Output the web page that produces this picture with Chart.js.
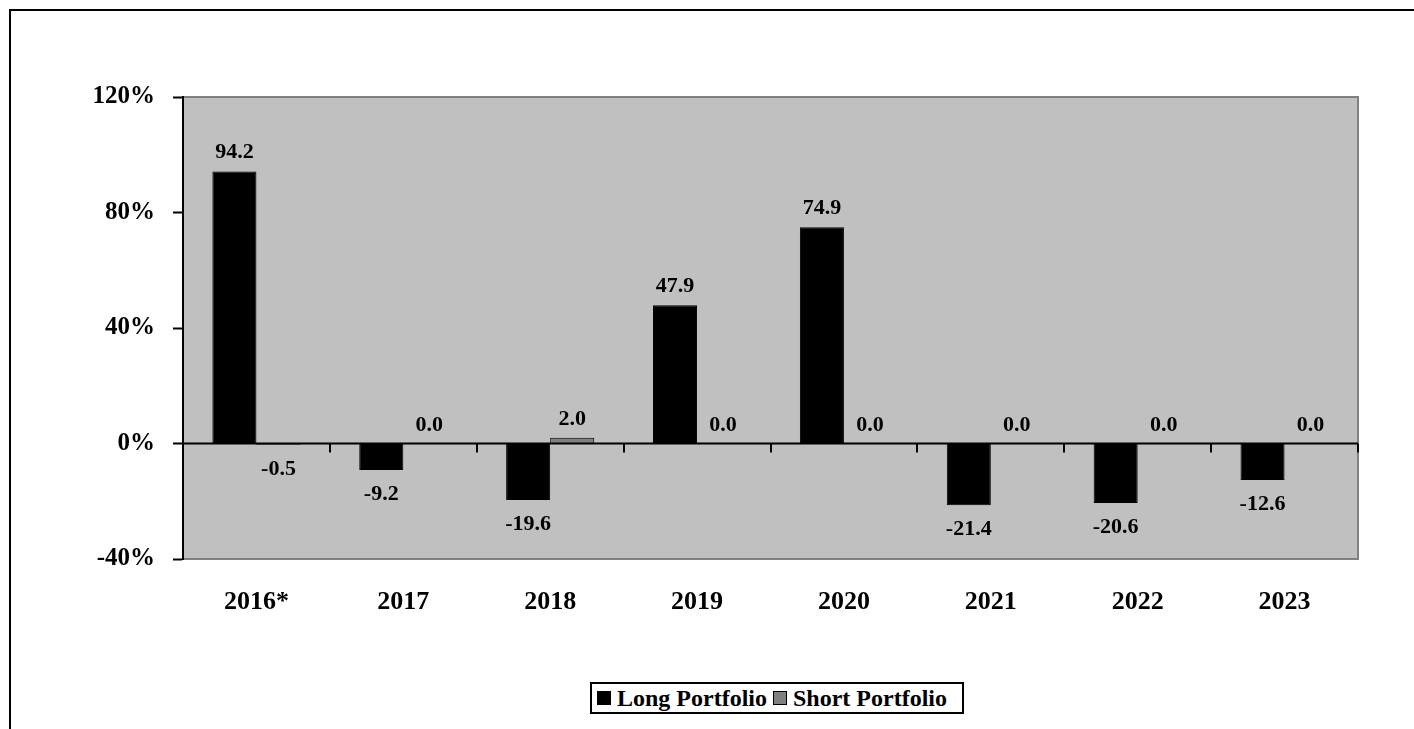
<!DOCTYPE html>
<html><head><meta charset="utf-8">
<script src="https://cdn.jsdelivr.net/npm/chart.js@4"></script>
<style>
html,body{margin:0;padding:0;background:#fff;}
#frame{position:absolute;left:9px;top:9px;width:1420px;height:740px;border-top:2px solid #000;border-left:2px solid #000;box-sizing:border-box;}
#wrap{position:absolute;left:0;top:0;width:1414px;height:729px;}
#legend{position:absolute;left:590px;top:682px;width:374px;height:32px;box-sizing:border-box;border:2px solid #000;background:#fff;
 font-family:"Liberation Serif","Times New Roman",serif;font-weight:bold;font-size:24px;display:flex;align-items:center;padding-left:5px;white-space:nowrap;}
.mk{display:inline-block;width:14px;height:14px;box-sizing:border-box;border:1px solid #000;margin-right:6px;}
</style></head>
<body>
<div id="frame"></div>
<div id="wrap"><canvas id="c" width="1414" height="729"></canvas></div>
<div id="legend"><span class="mk" style="background:#000"></span><span>Long Portfolio</span><span style="display:inline-block;width:6px"></span><span class="mk" style="background:#808080"></span><span>Short Portfolio</span></div>
<script>
const categories = ["2016*","2017","2018","2019","2020","2021","2022","2023"];
const longPortfolio = [94.2,-9.2,-19.6,47.9,74.9,-21.4,-20.6,-12.6];
const shortPortfolio = [-0.5,0.0,2.0,0.0,0.0,0.0,0.0,0.0];
const seriesNames = ["Long Portfolio","Short Portfolio"];
const yTicks = [-40,0,40,80,120];

const FONT = '"Liberation Serif","Times New Roman",serif';

const bgPlugin = {
  id:'bg',
  beforeDraw(chart){
    const {ctx, chartArea:a} = chart;
    ctx.save();
    ctx.fillStyle = '#C0C0C0';
    ctx.fillRect(a.left, a.top, a.right-a.left, a.bottom-a.top);
    ctx.strokeStyle = '#808080';
    ctx.lineWidth = 2;
    ctx.beginPath();
    ctx.moveTo(a.left, a.top); ctx.lineTo(a.right, a.top); ctx.lineTo(a.right, a.bottom); ctx.lineTo(a.left, a.bottom);
    ctx.stroke();
    ctx.restore();
  },
  afterDatasetsDraw(chart){
    const {ctx} = chart;
    const xs = chart.scales.x, ys = chart.scales.y;
    const y0 = ys.getPixelForValue(0);
    ctx.save();
    ctx.strokeStyle = '#000'; ctx.lineWidth = 2;
    ctx.beginPath(); ctx.moveTo(chart.chartArea.left, y0); ctx.lineTo(chart.chartArea.right, y0); ctx.stroke();
    const n = categories.length;
    const step = (xs.getPixelForValue(1) - xs.getPixelForValue(0));
    for (let i=1;i<=n;i++){
      const x = Math.round(xs.getPixelForValue(i-1) + step/2);
      ctx.beginPath(); ctx.moveTo(x, y0); ctx.lineTo(x, y0+9); ctx.stroke();
    }
    ctx.fillStyle = '#000';
    ctx.font = 'bold 22px ' + FONT;
    ctx.textAlign = 'center';
    ctx.textBaseline = 'alphabetic';
    chart.data.datasets.forEach((ds, di)=>{
      const meta = chart.getDatasetMeta(di);
      meta.data.forEach((el, i)=>{
        const v = ds.data[i];
        const txt = v.toFixed(1);
        let y;
        if (v >= 0) y = el.y - 13;
        else y = el.y + 30;
        ctx.fillText(txt, el.x + (v===0 ? 4 : 0), y);
      });
    });
    ctx.restore();
  }
};

new Chart(document.getElementById('c'), {
  type:'bar',
  data:{
    labels: categories,
    datasets:[
      {label:seriesNames[0], data:longPortfolio, backgroundColor:'#000000', borderColor:'#000', borderWidth:1, barPercentage:1.0, categoryPercentage:0.6},
      {label:seriesNames[1], data:shortPortfolio, backgroundColor:'#808080', borderColor:'#000', borderWidth:1, barPercentage:1.0, categoryPercentage:0.6}
    ]
  },
  options:{
    responsive:false,
    animation:false,
    layout:{padding:{left:0,right:56,top:97,bottom:0}},
    plugins:{legend:{display:false}, tooltip:{enabled:false}},
    scales:{
      x:{
        grid:{display:false, drawTicks:false},
        border:{display:false},
        ticks:{color:'#000', font:{family:FONT, size:26, weight:'bold'}, padding:28, maxRotation:0},
        afterFit(s){ s.height = 170; }
      },
      y:{
        min:-40, max:120,
        afterBuildTicks(s){ s.ticks = yTicks.map(v=>({value:v})); },
        grid:{drawOnChartArea:false, drawTicks:true, tickLength:10, tickColor:'#000', tickWidth:2},
        border:{display:true, color:'#000', width:2},
        ticks:{color:'#000', font:{family:FONT, size:25, weight:'bold'}, padding:18, callback:v=>v+'%'},
        afterFit(s){ s.width = 183; }
      }
    }
  },
  plugins:[bgPlugin]
});
</script>
</body></html>
